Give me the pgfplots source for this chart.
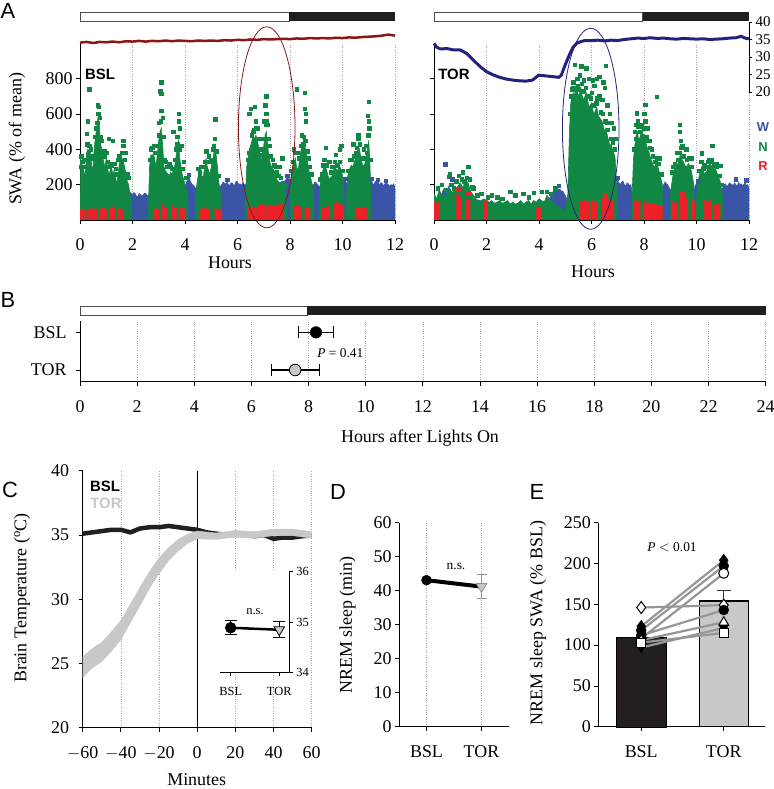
\documentclass[border=0pt]{standalone}
\usepackage{pgfplots}
\pgfplotsset{compat=1.18}
\usepackage{fontspec}
\setmainfont{Liberation Serif}
\newfontfamily\arial{Liberation Sans}
\newcommand{\fs}[1]{\fontsize{#1}{#1}\selectfont}
\definecolor{ngreen}{RGB}{16,135,66}
\definecolor{wblue}{RGB}{58,84,166}
\definecolor{rred}{RGB}{237,32,39}
\definecolor{tred}{RGB}{140,22,22}
\definecolor{tnavy}{RGB}{35,35,125}
\definecolor{lgray}{RGB}{200,200,200}
\definecolor{mgray}{RGB}{150,150,150}
\definecolor{barblack}{RGB}{35,31,32}
\pgfplotsset{
  base/.style={scale only axis, anchor=south west,
    axis line style={-, line width=0.9bp, black},
    tick style={black, line width=0.8bp}, major tick length=4bp, tick align=outside,
    /pgf/number format/assume math mode=true,
    ticklabel style={font=\fs{18}}, xticklabel style={yshift=-11bp},
    grid style={dotted, black!35, line width=0.6bp}},
  sq/.style={only marks, mark=square*, mark size=1.7bp},
  vcap/.style={only marks, mark=|, mark size=6bp, mark options={line width=1.2bp}},
  hcap/.style={only marks, mark=-, mark size=6bp, mark options={line width=1.2bp}},
}
\begin{document}
\begin{tikzpicture}
\useasboundingbox (0,0) rectangle (774bp,789bp);
% ================= Panel A, BSL =================
\begin{axis}[base, at={(80bp,569bp)}, width=315bp, height=176.7bp,
  xmin=0, xmax=12, ymin=0, ymax=1000, axis x line*=bottom, axis y line*=left,
  xtick={0,2,...,12}, ytick={200,400,600,800}, xmajorgrids]
\addplot[fill=wblue, draw=wblue, line width=0.6bp] coordinates {(0,120)(0.5,140)(1.0,130)(1.5,150)(1.9,160)(1.95,150)(2.0,140)(2.05,155)(2.1,150)(2.15,135)(2.2,130)(2.25,150)(2.3,145)(2.35,135)(2.4,140)(2.45,150)(2.5,150)(2.55,140)(2.6,140)(3.0,150)(3.5,160)(4.0,180)(4.05,210)(4.1,230)(4.15,255)(4.2,220)(4.25,205)(4.3,200)(4.35,190)(4.4,180)(5.0,170)(5.35,190)(5.4,200)(5.45,215)(5.5,210)(5.55,200)(5.6,220)(5.65,200)(5.7,195)(5.75,210)(5.8,210)(5.85,195)(5.9,200)(5.95,220)(6.0,215)(6.05,200)(6.1,205)(6.15,195)(6.2,210)(6.25,200)(6.3,200)(7.0,190)(7.8,220)(7.85,230)(7.9,245)(7.95,235)(8.0,230)(8.5,180)(8.9,200)(8.95,215)(9.0,210)(9.05,200)(9.1,190)(9.5,180)(10.0,210)(10.05,220)(10.1,225)(10.15,210)(10.2,200)(10.5,190)(11.0,210)(11.05,220)(11.1,230)(11.15,205)(11.2,200)(11.25,220)(11.3,215)(11.35,225)(11.4,195)(11.45,210)(11.5,210)(11.55,195)(11.6,200)(11.65,215)(11.7,205)(11.75,200)(11.8,190)(11.85,200)(11.9,195)(11.95,205)(12.0,180)} \closedcycle;
\addplot[sq, wblue] coordinates {(4.15,255)(11.35,228)(7.9,250)(11.1,235)(10.1,232)(5.6,228)(11.65,222)};
\addplot[fill=ngreen, draw=ngreen, line width=0.6bp] coordinates {(0,0)(0.02,350)(0.1,300)(0.2,250)(0.25,380)(0.3,400)(0.4,380)(0.45,300)(0.5,300)(0.55,420)(0.6,480)(0.65,540)(0.7,600)(0.75,500)(0.8,420)(0.85,380)(0.9,330)(0.95,300)(1.0,350)(1.05,300)(1.1,250)(1.15,280)(1.2,300)(1.25,260)(1.3,280)(1.35,240)(1.4,200)(1.45,260)(1.5,320)(1.55,340)(1.6,350)(1.65,330)(1.7,300)(1.75,260)(1.8,220)(1.85,200)(1.9,150)(1.95,120)(1.96,0)
(2.6,0)(2.61,100)(2.65,300)(2.7,370)(2.75,360)(2.8,380)(2.85,340)(2.9,300)(2.95,380)(3.0,450)(3.05,500)(3.1,520)(3.15,420)(3.2,300)(3.25,280)(3.3,270)(3.35,260)(3.4,250)(3.45,270)(3.5,260)(3.55,280)(3.6,300)(3.65,350)(3.7,400)(3.75,450)(3.8,350)(3.85,300)(3.9,250)(3.95,230)(4.0,200)(4.1,150)(4.11,0)
(4.4,0)(4.41,150)(4.45,200)(4.5,250)(4.55,260)(4.6,270)(4.65,240)(4.7,250)(4.75,300)(4.8,350)(4.85,300)(4.9,280)(4.95,260)(5.0,300)(5.05,330)(5.1,380)(5.15,420)(5.2,350)(5.25,280)(5.3,200)(5.35,150)(5.36,0)
(6.3,0)(6.31,150)(6.35,300)(6.4,350)(6.45,400)(6.5,420)(6.55,450)(6.6,470)(6.65,460)(6.7,480)(6.75,450)(6.8,420)(6.85,380)(6.9,330)(6.95,380)(7.0,420)(7.05,480)(7.1,500)(7.15,420)(7.2,350)(7.25,320)(7.3,300)(7.35,290)(7.4,280)(7.45,250)(7.5,230)(7.55,220)(7.6,200)(7.65,210)(7.7,220)(7.75,200)(7.8,170)(7.85,150)(7.86,0)
(8.0,0)(8.01,150)(8.05,250)(8.1,300)(8.15,320)(8.2,350)(8.25,300)(8.3,280)(8.35,320)(8.4,380)(8.45,420)(8.5,440)(8.55,420)(8.6,400)(8.65,350)(8.7,300)(8.75,260)(8.8,230)(8.85,200)(8.9,150)(8.91,0)
(9.1,0)(9.11,150)(9.15,200)(9.2,250)(9.25,280)(9.3,300)(9.35,300)(9.4,280)(9.45,250)(9.5,230)(9.55,240)(9.6,250)(9.65,280)(9.7,300)(9.75,290)(9.8,280)(9.85,290)(9.9,300)(9.95,280)(10.0,250)(10.05,150)(10.06,0)
(10.15,0)(10.16,150)(10.2,250)(10.25,280)(10.3,300)(10.35,310)(10.4,300)(10.45,330)(10.5,350)(10.55,380)(10.6,420)(10.65,400)(10.7,350)(10.75,320)(10.8,300)(10.85,320)(10.9,350)(10.95,400)(11.0,450)(11.05,300)(11.08,150)(11.09,0)} \closedcycle;
\addplot[sq, ngreen] coordinates {(0.35,740)(0.3,560)(0.25,490)(0.68,650)(0.72,640)(0.7,600)(0.75,580)(0.65,550)(0.62,520)(1.1,460)(1.25,450)(1.65,450)(1.65,420)(0.95,360)(1.05,330)(1.3,320)(1.45,340)(0.15,340)(0.05,360)(0.4,400)(1.2,310)(1.75,380)
(0.05,300)(0.1,330)(0.2,300)(0.28,430)(0.35,420)(0.45,350)(0.5,360)(0.55,470)(0.6,520)(0.78,470)(0.82,450)(0.88,380)(0.92,390)(1.02,380)(1.08,300)(1.15,320)(1.35,290)(1.42,260)(1.5,360)(1.58,380)(1.7,340)(1.8,260)(1.85,240)
(3.1,780)(3.05,730)(3.1,715)(3.1,620)(3.0,550)(3.15,580)(3.75,600)(3.75,560)(3.8,520)(3.55,500)(3.7,470)(3.4,320)(3.5,290)(2.8,420)(2.7,400)(3.25,330)(3.85,420)(3.95,330)
(2.65,340)(2.75,410)(2.85,380)(2.95,420)(3.02,480)(3.08,560)(3.18,470)(3.22,340)(3.3,300)(3.45,300)(3.6,340)(3.65,400)(3.7,430)(3.8,400)(3.9,290)(4.05,240)
(5.15,570)(4.8,390)(4.9,360)(5.1,420)(4.55,270)(4.95,330)(5.05,400)(4.7,300)
(4.5,290)(4.6,300)(4.75,330)(4.85,330)(5.0,340)(5.12,460)(5.2,390)(5.28,250)
(6.5,630)(6.65,640)(6.45,600)(6.7,560)(7.1,700)(7.05,650)(7.1,600)(7.0,560)(7.15,540)(7.7,350)(7.6,300)(7.35,340)(6.6,500)(6.75,520)(6.9,400)(7.2,420)(7.45,300)(7.5,270)
(6.38,340)(6.42,380)(6.55,480)(6.62,510)(6.7,520)(6.8,460)(6.88,370)(6.98,460)(7.08,540)(7.12,560)(7.18,460)(7.25,360)(7.4,310)(7.55,250)(7.65,240)(7.8,200)
(8.25,740)(8.55,720)(8.55,630)(8.6,600)(8.6,560)(8.45,480)(8.5,430)(8.7,350)(8.3,380)(8.15,400)(8.75,300)
(8.05,280)(8.12,330)(8.2,380)(8.35,350)(8.42,420)(8.52,470)(8.58,450)(8.65,390)(8.8,260)
(9.35,410)(9.5,330)(9.2,260)(9.75,370)(9.95,420)(9.9,400)(9.6,300)(9.3,340)
(9.15,230)(9.25,310)(9.4,310)(9.55,270)(9.7,330)(9.8,310)(9.9,330)(10.0,280)
(11.0,670)(10.97,590)(11.0,560)(10.6,480)(10.6,460)(10.4,430)(10.8,400)(10.9,420)(10.5,380)(10.3,340)(11.02,520)
(10.2,280)(10.35,340)(10.45,360)(10.55,410)(10.65,430)(10.75,350)(10.85,350)(10.92,380)(10.98,480)(11.05,340)};
\addplot[fill=rred, draw=rred, line width=0.6bp] coordinates {(0,0)(0,55)(0.1,62)(0.2,58)(0.23,60)(0.23,0)
(0.32,0)(0.32,60)(0.45,65)(0.55,58)(0.63,62)(0.63,0)
(0.76,0)(0.76,62)(0.88,66)(1.0,60)(1.0,0)
(1.14,0)(1.14,70)(1.25,75)(1.33,65)(1.33,0)
(1.46,0)(1.46,60)(1.55,65)(1.65,58)(1.65,0)
(2.8,0)(2.8,60)(2.9,65)(3.0,58)(3.0,0)
(3.1,0)(3.1,100)(3.15,85)(3.2,70)(3.3,65)(3.3,0)
(3.5,0)(3.5,80)(3.6,70)(3.68,65)(3.68,0)
(3.8,0)(3.8,65)(3.9,70)(4.0,60)(4.0,0)
(4.57,0)(4.57,60)(4.75,65)(4.95,60)(4.95,0)
(5.14,0)(5.14,65)(5.25,60)(5.4,62)(5.4,0)
(6.41,0)(6.41,70)(6.55,75)(6.73,68)(6.73,0)
(6.8,0)(6.8,80)(6.95,90)(7.1,75)(7.1,0)
(7.17,0)(7.17,85)(7.3,80)(7.45,75)(7.6,90)(7.75,80)(7.75,0)
(8.13,0)(8.13,75)(8.3,80)(8.44,70)(8.44,0)
(8.57,0)(8.57,70)(8.66,72)(8.76,68)(8.76,0)
(9.2,0)(9.2,65)(9.35,70)(9.52,80)(9.52,0)
(9.65,0)(9.65,85)(9.8,100)(9.9,90)(10.03,75)(10.03,0)
(10.48,0)(10.48,70)(10.7,72)(10.92,65)(10.92,0)} \closedcycle;
\end{axis}
\begin{axis}[scale only axis, anchor=south west, at={(80bp,697bp)}, width=315bp, height=70bp,
  xmin=0, xmax=12, ymin=20, ymax=40, hide axis, clip=false]
\addplot[tred, line width=2.5bp] coordinates {(0,34.1)(0.25,34.3)(0.5,34.0)(0.75,34.3)(1,34.2)(1.25,34.4)(1.5,34.2)(1.75,34.5)(2,34.4)(2.25,34.6)(2.5,34.4)(2.75,34.6)(3,34.5)(3.25,34.7)(3.5,34.5)(3.75,34.7)(4,34.6)(4.25,34.5)(4.5,34.7)(4.75,34.6)(5,34.7)(5.25,34.6)(5.5,34.8)(5.75,34.7)(6,34.9)(6.25,34.8)(6.5,35.0)(6.75,34.9)(7,35.1)(7.25,35.0)(7.5,35.1)(7.75,35.2)(8,35.1)(8.25,35.3)(8.5,35.2)(8.75,35.4)(9,35.3)(9.25,35.4)(9.5,35.3)(9.75,35.5)(10,35.4)(10.25,35.6)(10.5,35.5)(10.75,35.7)(11,35.8)(11.25,35.9)(11.5,36.1)(11.75,36.4)(12,36.1)};
\end{axis}
% ================= Panel A, TOR =================
\begin{axis}[base, at={(434bp,569bp)}, width=315bp, height=176.7bp,
  xmin=0, xmax=12, ymin=0, ymax=1000, axis x line*=bottom, axis y line*=left,
  xtick={0,2,...,12}, ytick={200,400,600,800}, yticklabels={}, xmajorgrids]
\addplot[fill=wblue, draw=wblue, line width=0.6bp] coordinates {(0,80)(0.2,100)(0.3,150)(0.35,170)(0.4,180)(0.45,160)(0.5,165)(0.55,190)(0.6,170)(0.7,150)(0.75,175)(0.8,160)(1.0,150)(1.5,120)(2.0,100)(3.0,90)(4.0,90)(4.4,120)(4.5,150)(4.55,165)(4.6,175)(4.65,160)(4.7,180)(4.75,170)(4.8,175)(4.85,160)(4.9,165)(4.95,150)(5.0,140)(5.1,100)(6.9,150)(6.95,205)(7.0,220)(7.05,210)(7.1,200)(7.15,215)(7.2,220)(7.25,200)(7.3,190)(7.35,210)(7.4,205)(7.45,195)(7.5,200)(7.55,150)(8.7,180)(8.75,200)(8.8,215)(8.85,205)(8.9,200)(8.95,185)(9.0,170)(9.9,160)(9.95,195)(10.0,205)(10.05,200)(10.1,190)(11.0,180)(11.05,200)(11.1,205)(11.15,190)(11.2,195)(11.25,210)(11.3,205)(11.35,200)(11.4,195)(11.45,210)(11.5,200)(11.55,190)(11.6,215)(11.65,200)(11.7,205)(11.75,195)(11.8,200)(11.85,210)(11.9,195)(11.95,200)(12.0,180)} \closedcycle;
\addplot[sq, wblue] coordinates {(0.42,315)(0.55,245)(0.7,230)(11.5,230)(11.9,225)(4.75,195)(7.0,240)(10.05,220)(6.95,235)};
\addplot[fill=ngreen, draw=ngreen, line width=0.6bp] coordinates {(0,0)(0,150)(0.1,120)(0.2,170)(0.3,140)(0.4,130)(0.5,160)(0.6,180)(0.7,150)(0.8,170)(0.9,190)(1.0,210)(1.1,180)(1.2,230)(1.3,210)(1.4,160)(1.5,140)(1.6,120)(1.7,100)(1.8,110)(1.9,120)(2.0,110)(2.1,100)(2.2,110)(2.3,90)(2.4,100)(2.5,110)(2.6,95)(2.7,100)(2.8,110)(2.9,90)(3.0,100)(3.1,90)(3.2,95)(3.3,110)(3.4,90)(3.5,100)(3.6,110)(3.7,90)(3.8,110)(3.9,100)(4.0,120)(4.1,110)(4.2,100)(4.3,140)(4.4,120)(4.5,100)(4.6,90)(4.7,80)(4.8,70)(4.9,60)(5.0,50)(5.05,100)(5.1,150)(5.15,450)(5.2,650)(5.25,690)(5.3,720)(5.35,700)(5.4,760)(5.45,730)(5.5,700)(5.55,720)(5.6,740)(5.65,700)(5.7,680)(5.75,700)(5.8,720)(5.85,680)(5.9,640)(5.95,650)(6.0,660)(6.05,620)(6.1,600)(6.15,620)(6.2,640)(6.25,600)(6.3,580)(6.35,570)(6.4,560)(6.45,530)(6.5,500)(6.55,520)(6.6,480)(6.65,450)(6.7,420)(6.75,430)(6.8,400)(6.85,380)(6.9,350)(6.95,200)(6.96,0)
(7.54,0)(7.55,150)(7.6,350)(7.65,420)(7.7,480)(7.75,500)(7.8,450)(7.85,470)(7.9,500)(7.95,490)(8.0,480)(8.05,450)(8.1,420)(8.15,400)(8.2,380)(8.25,350)(8.3,330)(8.35,310)(8.4,300)(8.45,320)(8.5,320)(8.55,290)(8.6,260)(8.65,230)(8.7,200)(8.71,0)
(9.0,0)(9.01,150)(9.05,200)(9.1,250)(9.15,280)(9.2,300)(9.25,310)(9.3,320)(9.35,350)(9.4,380)(9.45,340)(9.5,330)(9.55,310)(9.6,300)(9.65,310)(9.7,320)(9.75,300)(9.8,280)(9.85,240)(9.9,200)(9.91,0)
(10.0,0)(10.01,150)(10.05,200)(10.1,250)(10.15,280)(10.2,300)(10.25,280)(10.3,260)(10.35,270)(10.4,280)(10.45,300)(10.5,320)(10.55,310)(10.6,300)(10.65,290)(10.7,290)(10.75,280)(10.8,260)(10.85,240)(10.9,220)(10.95,170)(11.0,120)(11.01,0)} \closedcycle;
\addplot[sq, ngreen] coordinates {(0.6,260)(1.3,300)(1.25,240)(0.85,220)(0.95,250)(1.5,180)(1.8,150)(2.9,160)(3.1,140)(3.8,155)(4.1,160)(4.6,180)(0.3,200)(2.4,130)(3.4,150)(1.1,270)(2.2,140)
(0.15,180)(0.45,170)(0.65,200)(0.75,180)(1.05,230)(1.15,220)(1.35,230)(1.45,190)(1.65,140)(2.05,130)(2.6,120)(3.6,130)(4.3,160)(4.45,150)
(5.35,880)(5.6,870)(5.55,820)(5.8,860)(5.9,800)(6.05,790)(6.2,800)(6.3,810)(6.1,760)(6.55,873)(6.45,780)(6.5,750)(5.3,780)(5.7,790)(6.3,700)(6.6,650)(6.7,600)(6.85,520)(6.9,460)(5.45,800)(5.25,740)(6.0,720)(6.75,550)(6.4,680)
(5.18,600)(5.22,700)(5.28,750)(5.38,740)(5.48,760)(5.52,740)(5.62,770)(5.68,730)(5.78,750)(5.88,700)(5.98,690)(6.08,650)(6.18,660)(6.22,690)(6.35,610)(6.42,600)(6.52,560)(6.58,550)(6.62,510)(6.72,460)(6.8,440)(6.88,400)
(7.72,604)(7.75,560)(7.7,540)(8.04,651)(8.0,600)(8.05,560)(8.48,698)(7.9,530)(8.15,520)(8.2,450)(8.3,400)(7.65,500)(8.6,350)
(7.62,400)(7.68,460)(7.78,530)(7.85,500)(7.92,540)(7.98,520)(8.08,470)(8.12,450)(8.22,410)(8.32,360)(8.42,330)(8.5,350)(8.55,320)(8.65,260)
(9.37,538)(9.37,500)(9.4,450)(9.25,380)(9.6,400)(9.8,350)(9.1,300)(9.45,420)
(9.08,270)(9.18,320)(9.28,340)(9.35,380)(9.42,410)(9.52,360)(9.62,340)(9.72,350)(9.82,300)
(10.6,420)(10.2,377)(10.57,340)(10.9,307)(10.45,330)(10.75,320)(10.3,310)
(10.08,280)(10.18,330)(10.28,290)(10.38,300)(10.48,340)(10.58,330)(10.68,310)(10.78,300)(10.88,250)(10.95,200)};
\addplot[fill=rred, draw=rred, line width=0.6bp] coordinates {(0,0)(0,100)(0.08,95)(0.17,100)(0.17,0)
(0.86,0)(0.86,150)(0.95,140)(1.05,120)(1.05,0)
(1.2,0)(1.2,120)(1.3,110)(1.37,115)(1.37,0)
(1.88,0)(1.88,110)(1.95,105)(2.03,110)(2.03,0)
(3.9,0)(3.9,70)(4.0,75)(4.1,70)(4.1,0)
(5.55,0)(5.55,100)(5.7,110)(5.85,105)(5.95,100)(5.95,0)(6.0,0)(6.0,110)(6.1,105)(6.2,100)(6.2,0)
(6.4,0)(6.4,120)(6.55,125)(6.7,115)(6.85,110)(6.85,0)
(7.6,0)(7.6,110)(7.7,105)(7.85,110)(7.85,0)
(7.97,0)(7.97,100)(8.15,95)(8.35,90)(8.5,85)(8.7,80)(8.7,0)
(9.05,0)(9.05,100)(9.15,95)(9.25,100)(9.25,0)
(9.37,0)(9.37,130)(9.5,120)(9.62,125)(9.62,0)
(9.8,0)(9.8,110)(9.95,105)(9.95,0)
(10.3,0)(10.3,110)(10.45,105)(10.57,110)(10.57,0)
(10.64,0)(10.64,90)(10.8,85)(10.9,90)(10.9,0)} \closedcycle;
\addplot[sq, rred] coordinates {(0.92,175)(1.3,150)(6.5,140)(9.45,145)};
\end{axis}
\begin{axis}[base, at={(434bp,697bp)}, width=315bp, height=70bp,
  xmin=0, xmax=12, ymin=20, ymax=40, axis x line=none, axis y line*=right,
  ytick={20,25,...,40}, yticklabel style={font=\fs{15}}, major tick length=3bp, clip=false]
\addplot[tnavy, line width=3bp] coordinates {(0,33.9)(0.1,32.8)(0.25,32.3)(0.5,32.4)(0.75,32.0)(1.0,32.0)(1.25,31.0)(1.5,29.1)(1.75,27.3)(2.0,25.8)(2.25,24.9)(2.5,24.2)(2.75,23.7)(3.0,23.4)(3.25,23.2)(3.5,23.1)(3.75,23.4)(3.9,24.3)(4.0,24.8)(4.25,24.6)(4.5,24.4)(4.75,24.2)(4.85,24.8)(5.0,27.8)(5.15,30.5)(5.3,32.8)(5.45,34.0)(5.6,34.4)(5.75,34.7)(6.0,34.7)(6.25,34.8)(6.5,34.6)(6.75,34.8)(7.0,34.7)(7.25,35.0)(7.5,35.2)(7.75,35.4)(8.0,35.3)(8.25,35.5)(8.5,35.3)(8.75,35.4)(9.0,35.2)(9.25,35.1)(9.5,35.3)(9.75,35.2)(10.0,35.1)(10.25,35.2)(10.5,35.0)(10.75,35.1)(11.0,35.2)(11.25,35.4)(11.5,35.5)(11.7,35.9)(11.85,35.4)(12.0,35.2)};
\end{axis}
% light/dark bars A
\draw[line width=0.7bp, black!70, fill=white] (80bp,768bp) rectangle (289bp,776.7bp);
\fill[black!88] (289bp,768bp) rectangle (395.3bp,776.7bp);
\draw[line width=0.7bp, black!70, fill=white] (434.3bp,768bp) rectangle (642.7bp,776.7bp);
\fill[black!88] (642.7bp,768bp) rectangle (749.3bp,776.7bp);
% ellipses
\draw[tred, line width=0.8bp] (266.7bp,661.7bp) ellipse (28.3bp and 100.5bp);
\draw[tnavy, line width=0.8bp] (590.7bp,660.2bp) ellipse (28.3bp and 100.5bp);
% texts A
\node[font=\arial\bfseries\fs{15}] at (100bp,715bp) {BSL};
\node[font=\arial\bfseries\fs{15}] at (454bp,715bp) {TOR};
\node[font=\arial\bfseries\fs{13}, wblue] at (763bp,661.5bp) {W};
\node[font=\arial\bfseries\fs{13}, ngreen] at (763bp,642.3bp) {N};
\node[font=\arial\bfseries\fs{13}, rred] at (763bp,623.2bp) {R};
\node[font=\fs{18}, rotate=90] at (17bp,650bp) {SWA (\% of mean)};
\node[font=\fs{18}] at (230bp,526bp) {Hours};
\node[font=\fs{18}] at (593bp,517bp) {Hours};
% ================= Panel B =================
\draw[line width=0.7bp, black!70, fill=white] (80bp,474bp) rectangle (307.3bp,483bp);
\fill[black!88] (307.3bp,474bp) rectangle (765.7bp,483bp);
\begin{axis}[base, at={(80bp,407.3bp)}, width=685.7bp, height=61bp,
  xmin=0, xmax=24, ymin=0.69, ymax=2.31, axis x line*=bottom, axis y line*=left,
  xtick={0,2,...,24}, ytick={1,2}, yticklabels={TOR,BSL}, yticklabel style={xshift=-6bp},
  xmajorgrids, clip=false]
\addplot[black, line width=1.2bp] coordinates {(7.66,2)(8.86,2)};
\addplot[vcap, black] coordinates {(7.66,2)(8.86,2)};
\addplot[only marks, mark=*, mark size=5.8bp, mark options={fill=black, draw=black}] coordinates {(8.26,2)};
\addplot[black, line width=1.2bp] coordinates {(6.69,1)(8.37,1)};
\addplot[vcap, black] coordinates {(6.69,1)(8.37,1)};
\addplot[only marks, mark=*, mark size=5.8bp, mark options={fill=lgray, draw=black, line width=0.8bp}] coordinates {(7.53,1)};
\end{axis}
\node[font=\fs{13.5}] at (340.3bp,436bp) {\textit{P} = 0.41};
\node[font=\fs{18}] at (420bp,351bp) {Hours after Lights On};
% ================= Panel C =================
\begin{axis}[base, at={(82.7bp,61.3bp)}, width=229bp, height=257bp,
  xmin=-60, xmax=60, ymin=20, ymax=40, axis x line*=bottom, axis y line*=left,
  xtick={-60,-40,...,60}, ytick={20,25,...,40}, xmajorgrids,
  yticklabel style={xshift=-6bp},
  xticklabels={$-$60,$-$40,$-$20,0,20,40,60}]
\addplot[black, line width=0.9bp] coordinates {(0,20)(0,40)};
\addplot[barblack, line width=4.5bp] coordinates {(-60,35.1)(-55,35.2)(-50,35.3)(-45,35.4)(-40,35.4)(-35,35.2)(-30,35.5)(-25,35.6)(-20,35.6)(-15,35.7)(-10,35.6)(-5,35.5)(0,35.4)(5,35.2)(10,35.1)(15,35.0)(20,35.0)(25,35.0)(30,34.9)(35,35.0)(40,34.7)(45,34.8)(50,34.8)(55,34.9)(60,34.95)};
\addplot[fill=lgray, draw=lgray, line width=0.5bp] coordinates {(-60,25.5)(-55,26.15)(-50,26.65)(-45,27.45)(-40,28.35)(-35,29.62)(-30,30.9)(-25,32.15)(-20,33.2)(-15,34.0)(-10,34.65)(-5,35.05)(0,35.3)(10,35.15)(20,35.35)(30,35.25)(40,35.45)(50,35.45)(60,35.25)
(60,34.75)(50,34.95)(40,34.95)(30,34.75)(20,34.85)(10,34.65)(0,34.7)(-5,34.35)(-10,33.75)(-15,33.0)(-20,32.0)(-25,30.85)(-30,29.5)(-35,28.18)(-40,26.85)(-45,25.95)(-50,25.15)(-55,24.65)(-60,23.9)};
\end{axis}
% inset
\begin{axis}[base, at={(220bp,116.3bp)}, width=69.3bp, height=101bp,
  xmin=-0.22, xmax=1.206, ymin=34, ymax=36, axis x line*=bottom, axis y line*=right,
  axis background/.style={fill=white},
  xtick={0,1}, xticklabels={BSL,TOR}, ytick={34,35,36}, ticklabel style={font=\fs{12.5}},
  xticklabel style={yshift=3bp},
  major tick length=3.5bp, clip=false]
\addplot[black, line width=1.2bp] coordinates {(0,34.75)(0,35.03)};
\addplot[black, line width=1.2bp] coordinates {(1,34.69)(1,35.01)};
\addplot[hcap, black] coordinates {(0,34.75)(0,35.03)(1,34.69)(1,35.01)};
\addplot[black, line width=2.5bp] coordinates {(0,34.89)(1,34.85)};
\addplot[only marks, mark=*, mark size=5.5bp, mark options={fill=black}] coordinates {(0,34.89)};
\addplot[only marks, mark=triangle*, mark size=6bp, mark options={fill=lgray, draw=black, rotate=180, line width=0.8bp}] coordinates {(1,34.85)};
\end{axis}
\node[font=\fs{12.5}] at (255bp,177.3bp) {n.s.};
\node[font=\arial\bfseries\fs{15}] at (105bp,303bp) {BSL};
\node[font=\arial\bfseries\fs{15}, lgray] at (106bp,286bp) {TOR};
\node[font=\fs{18}, rotate=90] at (22bp,191bp) {Brain Temperature (\textsuperscript{o}C)};
\node[font=\fs{18}, anchor=base] at (196.7bp,4bp) {Minutes};
% ================= Panel D =================
\begin{axis}[base, at={(399bp,62.3bp)}, width=110bp, height=204bp,
  xmin=-0.5, xmax=1.5, ymin=0, ymax=60, axis x line*=bottom, axis y line*=left,
  xtick={0,1}, xticklabels={BSL,TOR}, ytick={0,10,...,60}, xmajorgrids, clip=false]
\addplot[mgray, line width=1bp] coordinates {(1,37.7)(1,44.7)};
\addplot[hcap, mgray, mark size=5bp] coordinates {(1,37.7)(1,44.7)};
\addplot[black, line width=4bp] coordinates {(0,43.1)(1,41.2)};
\addplot[only marks, mark=triangle*, mark size=6bp, mark options={fill=lgray, draw=mgray, rotate=180, line width=0.8bp}] coordinates {(1,41.2)};
\addplot[only marks, mark=*, mark size=5bp, mark options={fill=black}] coordinates {(0,43.1)};
\end{axis}
\node[font=\fs{13.5}] at (456bp,223bp) {n.s.};
\node[font=\fs{18}, rotate=90] at (347.5bp,164bp) {NREM sleep (min)};
% ================= Panel E =================
\begin{axis}[base, at={(598.3bp,62.3bp)}, width=166.7bp, height=204bp,
  xmin=-0.52, xmax=1.5, ymin=0, ymax=250, axis x line*=bottom, axis y line*=left,
  xtick={0,1}, xticklabels={BSL,TOR}, ytick={0,50,...,250}, clip=false]
\addplot[ybar, bar width=50.7bp, bar shift=0pt, fill=barblack, draw=black] coordinates {(0,110)};
\addplot[black!80, line width=1.2bp] coordinates {(1,154)(1,167)};
\addplot[hcap, black!80, mark size=7bp] coordinates {(1,167)};
\addplot[ybar, bar width=49bp, bar shift=0pt, fill=lgray, draw=black, line width=1.2bp] coordinates {(1,154)};
\addplot[mgray, line width=2.2bp] coordinates {(0,146)(1,149)};
\addplot[mgray, line width=2.2bp] coordinates {(0,123)(1,204)};
\addplot[mgray, line width=2.2bp] coordinates {(0,118)(1,197)};
\addplot[mgray, line width=2.2bp] coordinates {(0,108)(1,188)};
\addplot[mgray, line width=2.2bp] coordinates {(0,112)(1,143)};
\addplot[mgray, line width=2.2bp] coordinates {(0,106)(1,128)};
\addplot[mgray, line width=2.2bp] coordinates {(0,97)(1,121)};
\addplot[mgray, line width=2.2bp] coordinates {(0,103)(1,115)};
\addplot[only marks, mark=diamond*, mark size=6bp, mark options={fill=white, draw=black, line width=1bp}] coordinates {(0,146)(1,149)};
\addplot[only marks, mark=diamond*, mark size=6bp, mark options={fill=black, draw=black}] coordinates {(0,123)(1,204)};
\addplot[only marks, mark=*, mark size=5bp, mark options={fill=black, draw=black}] coordinates {(0,118)(1,197)};
\addplot[only marks, mark=*, mark size=5bp, mark options={fill=white, draw=black, line width=1bp}] coordinates {(0,108)(1,188)};
\addplot[only marks, mark=*, mark size=5bp, mark options={fill=black, draw=black}] coordinates {(0,112)(1,143)};
\addplot[only marks, mark=triangle*, mark size=5.5bp, mark options={fill=white, draw=black, line width=1bp}] coordinates {(0,106)(1,128)};
\addplot[only marks, mark=triangle*, mark size=5.5bp, mark options={fill=black, draw=black, rotate=180}] coordinates {(0,97)(1,121)};
\addplot[only marks, mark=square*, mark size=4.5bp, mark options={fill=white, draw=black, line width=1bp}] coordinates {(0,103)(1,115)};
\end{axis}
\node[font=\fs{13.5}] at (672bp,241.5bp) {\textit{P} $<$ 0.01};
\node[font=\fs{18}, rotate=90] at (538bp,166bp) {NREM sleep SWA (\% BSL)};
% panel letters
\node[font=\arial\fs{22}] at (8bp,778bp) {A};
\node[font=\arial\fs{22}] at (8bp,489bp) {B};
\node[font=\arial\fs{22}] at (10bp,299bp) {C};
\node[font=\arial\fs{22}] at (338bp,297bp) {D};
\node[font=\arial\fs{22}] at (537bp,297bp) {E};
\end{tikzpicture}
\end{document}
